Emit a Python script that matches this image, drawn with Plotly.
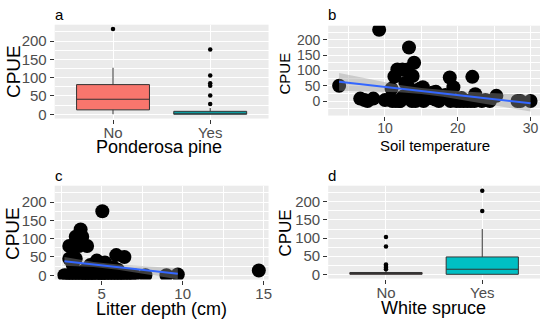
import plotly.graph_objects as go

# ---------------- data ----------------
cats = ["No", "Yes"]

# Panel a: Ponderosa pine box stats (q1, median, q3, lower whisker, upper whisker)
a_q1 = [12, 0]
a_med = [41, 2]
a_q3 = [81, 8]
a_lo = [0, 0]
a_hi = [127, 17]
a_out_no = [233]
a_out_yes = [28, 51, 78, 85, 106, 177]

# Panel d: White spruce box stats
d_q1 = [0, 0]
d_med = [1, 14]
d_q3 = [5, 48]
d_lo = [0, 0]
d_hi = [10, 125]
d_out_no = [14, 18, 23, 27, 77, 103]
d_out_yes = [175, 231]

# Panel b: Soil temperature vs CPUE
b_x = [3.7, 9.2, 13.3, 14.0, 11.7, 12.4, 13.1, 11.3, 13.8, 10.9, 13.2, 15.2, 16.6,
       18.9, 19.4, 22.0, 22.4, 25.3, 28.2, 28.6, 30.0,
       6.6, 7.2, 7.6, 8.4, 10.0, 10.6, 11.5, 12.0, 12.5, 13.0, 13.5, 14.2, 14.8,
       15.3, 16.2, 16.9, 17.4, 18.0, 18.3, 19.0, 19.8, 20.3, 20.8, 21.3, 21.8,
       22.3, 22.8, 23.3, 23.8, 24.4, 14.5, 12.8, 15.5, 17.0, 20.5, 12.1, 13.7, 11.0]
b_y = [50, 233, 175, 125, 103, 103, 103, 80, 82, 40, 47, 45, 28,
       77, 45, 79, 22, 17, 0, 0, 0,
       8, 3, 0, 8, 3, 5, 0, 0, 15, 20, 30, 0, 40,
       0, 10, 5, 0, 15, 20, 0, 0, 0, 0, 0, 0,
       0, 5, 0, 3, 0, 35, 60, 20, 30, 10, 0, 0, 0]
# fitted line and confidence half-width for panel b
b_fit_x = [3.7, 8, 12, 15, 18, 22, 26, 30]
b_fit_y = [63, 51.5, 40.8, 32.7, 24.7, 13.9, 3.2, -7.5]
b_fit_hw = [29, 19, 12, 10, 11, 16, 21, 27]

# Panel c: Litter depth vs CPUE
c_x = [5.04, 3.7, 3.4, 3.8, 3.0, 3.6, 4.1, 3.0, 3.4, 3.3, 4.7, 5.2, 5.9, 6.4, 5.7,
       4.3, 4.8, 3.2, 6.0, 5.5, 4.6, 3.5, 4.0, 5.0, 3.9, 4.4,
       2.7, 2.9, 3.1, 3.3, 3.5, 3.7, 3.9, 4.1, 4.3, 4.5, 4.7, 4.9, 5.1, 5.3,
       5.5, 5.7, 5.9, 6.1, 6.3, 6.5, 6.8, 7.0, 7.7, 9.0, 9.7, 14.7]
c_y = [175, 125, 105, 105, 80, 80, 80, 45, 45, 48, 40, 35, 55, 50, 22,
       28, 25, 30, 15, 10, 10, 8, 5, 5, 12, 6,
       0, 0, 0, 0, 0, 0, 0, 0, 0, 0, 0, 0, 0, 0,
       0, 0, 0, 0, 0, 0, 0, 0, 0, 0, 2, 13]
c_fit_x = [2.7, 4.5, 6.0, 7.5, 9.7]
c_fit_y = [38, 29.4, 22.2, 15.0, 4.4]
c_fit_hw = [12, 7, 7, 10, 15]

# ---------------- style ----------------
FONT = "Liberation Sans, Arial, sans-serif"
RED = "#F8766D"
TEAL = "#00BFC4"
PANEL = "#EBEBEB"
TICKC = "#4D4D4D"
BLUE = "#3366FF"
RIBBON = "rgba(153,153,153,0.4)"

fig = go.Figure()


def add_box(xa, ya, q1, med, q3, lo, hi, out_no, out_yes):
    for i, c in enumerate(cats):
        fig.add_trace(go.Box(
            x=[c], q1=[q1[i]], median=[med[i]], q3=[q3[i]],
            lowerfence=[lo[i]], upperfence=[hi[i]],
            width=0.75, whiskerwidth=0, boxpoints=False,
            fillcolor=[RED, TEAL][i], line=dict(color="#333333", width=1),
            xaxis=xa, yaxis=ya, showlegend=False))
    fig.add_trace(go.Scatter(
        x=["No"] * len(out_no) + ["Yes"] * len(out_yes), y=out_no + out_yes,
        mode="markers", marker=dict(color="black", size=4.5),
        xaxis=xa, yaxis=ya, showlegend=False))


def add_scatter(xa, ya, xs, ys, fx, fy, hw):
    lo = [y - h for y, h in zip(fy, hw)]
    hi = [y + h for y, h in zip(fy, hw)]
    fig.add_trace(go.Scatter(x=xs, y=ys, mode="markers",
                             marker=dict(color="black", size=14, line=dict(width=0)),
                             xaxis=xa, yaxis=ya, showlegend=False))
    fig.add_trace(go.Scatter(x=fx, y=lo, mode="lines", line=dict(width=0),
                             xaxis=xa, yaxis=ya, showlegend=False))
    fig.add_trace(go.Scatter(x=fx, y=hi, mode="lines", line=dict(width=0),
                             fill="tonexty", fillcolor=RIBBON,
                             xaxis=xa, yaxis=ya, showlegend=False))
    fig.add_trace(go.Scatter(x=fx, y=fy, mode="lines", line=dict(color=BLUE, width=2),
                             xaxis=xa, yaxis=ya, showlegend=False))


add_box("x", "y", a_q1, a_med, a_q3, a_lo, a_hi, a_out_no, a_out_yes)
add_scatter("x2", "y2", b_x, b_y, b_fit_x, b_fit_y, b_fit_hw)
add_scatter("x3", "y3", c_x, c_y, c_fit_x, c_fit_y, c_fit_hw)
add_box("x4", "y4", d_q1, d_med, d_q3, d_lo, d_hi, d_out_no, d_out_yes)

W, H = 550, 325


def dom(p0, p1, total, flip=False):
    if flip:
        return [1 - p1 / total, 1 - p0 / total]
    return [p0 / total, p1 / total]


common_axis = dict(showline=False, zeroline=False, gridcolor="white", gridwidth=1.1,
                   ticks="outside", ticklen=4, tickcolor="#333333", tickwidth=1,
                   showgrid=True)
minor_y = dict(dtick=25, showgrid=True, gridcolor="white", gridwidth=0.5, ticks="")

fig.update_layout(
    width=W, height=H, margin=dict(l=0, r=0, t=0, b=0),
    paper_bgcolor="white", plot_bgcolor=PANEL, showlegend=False,
    font=dict(family=FONT),
    boxmode="overlay",
)

panels = {
    "": dict(x=(55, 270), y=(25, 120), yr=[-11.65, 244.65], cat=True, fs=15),
    "2": dict(x=(330, 543), y=(26, 117), yr=[-47.5, 246.4], cat=False, xr=[2.2, 31.3],
              dt=10, mdt=5, fs=14),
    "3": dict(x=(55, 270), y=(188, 283), yr=[-11.65, 244.65], cat=False, xr=[2.1, 15.3],
              dt=5, mdt=2.5, fs=15),
    "4": dict(x=(330, 543), y=(188, 282), yr=[-11.65, 244.65], cat=True, fs=15),
}

for k, p in panels.items():
    xa = dict(common_axis)
    xa["domain"] = dom(*p["x"], W)
    xa["anchor"] = "y" + k
    xa["tickfont"] = dict(family=FONT, size=p["fs"], color=TICKC)
    xa["ticklabelstandoff"] = -4
    if p["cat"]:
        xa.update(type="category", categoryorder="array", categoryarray=cats,
                  range=[-0.6, 1.6])
    else:
        xa.update(range=p["xr"], dtick=p["dt"], tick0=0,
                  minor=dict(dtick=p["mdt"], tick0=0, showgrid=True,
                             gridcolor="white", gridwidth=0.5, ticks=""))
    ya = dict(common_axis)
    ya["domain"] = dom(*p["y"], H, flip=True)
    ya["anchor"] = "x" + k
    ya["tickfont"] = dict(family=FONT, size=p["fs"], color=TICKC)
    ya.update(range=p["yr"], dtick=50, tick0=0, minor=dict(minor_y, tick0=0))
    fig.update_layout(**{"xaxis" + k: xa, "yaxis" + k: ya})

ann = []


def txt(x, y, s, size, angle=0):
    ann.append(dict(x=x / W, y=1 - y / H, xref="paper", yref="paper", text=s,
                    showarrow=False, textangle=angle, xanchor="center", yanchor="middle",
                    font=dict(family=FONT, size=size, color="black")))


# panel letters
txt(60, 15, "a", 15)
txt(334, 15, "b", 15)
txt(59, 178, "c", 15)
txt(334, 178, "d", 15)
# x titles
txt(160, 149, "Ponderosa pine", 18)
txt(437, 147, "Soil temperature", 15)
txt(162, 313, "Litter depth (cm)", 18)
txt(436, 312, "White spruce", 18)
# y titles
txt(13, 72, "CPUE", 19, -90)
txt(286, 74, "CPUE", 15, -90)
txt(12, 236, "CPUE", 19, -90)
txt(287, 236, "CPUE", 17, -90)

fig.update_layout(annotations=ann)
fig.write_html("out.html", config={"displayModeBar": False},
               post_script="document.body.style.margin='0';document.body.style.overflow='hidden';")
